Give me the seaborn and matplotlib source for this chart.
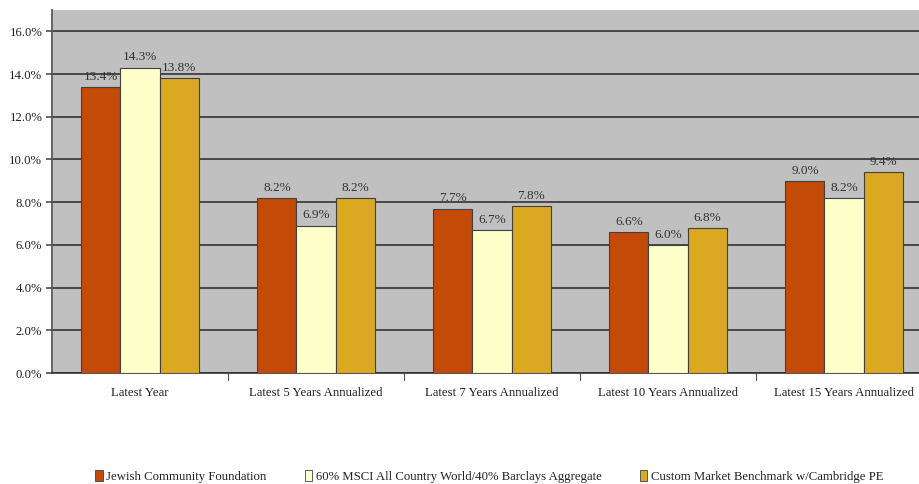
import seaborn as sns
import matplotlib.pyplot as plt
import pandas as pd

periods = ['Latest Year', 'Latest 5 Years Annualized', 'Latest 7 Years Annualized',
           'Latest 10 Years Annualized', 'Latest 15 Years Annualized']
series = ['Jewish Community Foundation',
          '60% MSCI All Country World/40% Barclays Aggregate',
          'Custom Market Benchmark w/Cambridge PE']
jcf = [13.4, 8.2, 7.7, 6.6, 9.0]
msci = [14.3, 6.9, 6.7, 6.0, 8.2]
custom = [13.8, 8.2, 7.8, 6.8, 9.4]
colors = ['#C44A08', '#FFFFCC', '#DAA921']

rows = []
for s, vals in zip(series, [jcf, msci, custom]):
    for p, v in zip(periods, vals):
        rows.append({'period': p, 'series': s, 'value': v})
df = pd.DataFrame(rows)

sns.set_theme(style="white")
plt.rcParams['font.family'] = ['Liberation Serif', 'DejaVu Serif']

fig = plt.figure(figsize=(9.2, 4.84), dpi=100)
ax = fig.add_axes([52 / 920, 111 / 484, 880 / 920, 363 / 484])
ax.set_facecolor('#C0C0C0')

sns.barplot(data=df, x='period', y='value', hue='series', palette=colors,
            width=0.665, edgecolor='#404040', linewidth=0.8, saturation=1,
            legend=False, ax=ax, zorder=3)

for cont in ax.containers:
    ax.bar_label(cont, labels=[f'{v:.1f}%' for v in cont.datavalues],
                 padding=3, fontsize=9.5, color='#333333')

ax.set_ylim(0, 17)
ax.set_yticks([0, 2, 4, 6, 8, 10, 12, 14, 16])
ax.set_yticklabels([f'{t:.1f}%' for t in ax.get_yticks()], fontsize=9.2, color='#222222')
ax.set_xticks(range(len(periods)))
ax.set_xticklabels(periods, fontsize=9.2, color='#222222')
ax.set_xlim(-0.5, len(periods) - 0.5)
ax.yaxis.grid(True, color='#333333', linewidth=1.2, zorder=0)
ax.set_axisbelow(True)
ax.set_xlabel('')
ax.set_ylabel('')
for side in ['top', 'right']:
    ax.spines[side].set_visible(False)
ax.spines['left'].set_color('#555555')
ax.spines['bottom'].set_color('#333333')
ax.spines['bottom'].set_linewidth(1.2)
ax.tick_params(axis='y', length=4, color='#555555', left=True, pad=3)
ax.tick_params(axis='x', length=0, pad=10)

# tick marks between groups
for i in range(len(periods) - 1):
    ax.plot([i + 0.5, i + 0.5], [0, -0.35], color='#555555', linewidth=0.8,
            clip_on=False)

handles = [plt.Rectangle((0, 0), 1, 1, facecolor=c, edgecolor='#404040', linewidth=0.6)
           for c in colors]
fig.legend(handles, series, loc='lower left', bbox_to_anchor=(84 / 920, -0.022),
           ncol=3, frameon=False, fontsize=9.2, handlelength=0.55, handleheight=0.9,
           handletextpad=0.3, columnspacing=3.0, labelcolor='#222222')

fig.savefig('out.png', dpi=100)
